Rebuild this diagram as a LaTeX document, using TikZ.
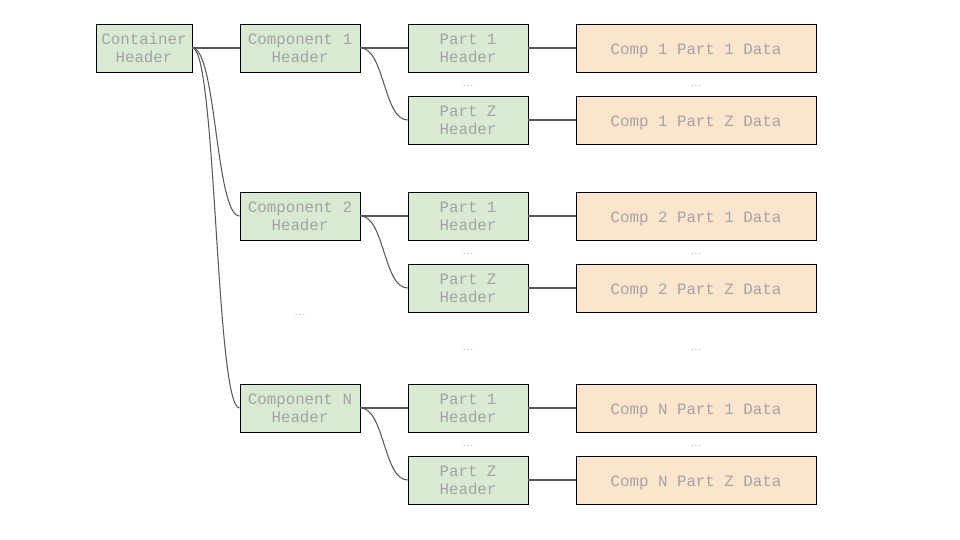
\documentclass[tikz,border=0pt]{standalone}
\usepackage{xcolor}
\usepackage{fontspec}
\usepackage{tikz}
\setmonofont{Liberation Mono}
\definecolor{hdrgreen}{HTML}{D9EAD3}
\definecolor{datapeach}{HTML}{FCE5CD}
\definecolor{txtgray}{HTML}{A3A3A3}
\definecolor{linkgray}{HTML}{595959}
\tikzset{
  box/.style={draw=black,line width=0.5pt,inner sep=0pt,
    minimum height=0.96cm,align=center,text=txtgray,
    font=\ttfamily\fontsize{9}{10.4}\selectfont},
  hdr/.style={box,fill=hdrgreen,minimum width=2.4cm,
    execute at begin node={\rule{0pt}{13.6pt}}},
  contbox/.style={hdr,minimum width=1.92cm},
  databox/.style={box,fill=datapeach,minimum width=4.8cm,
    execute at begin node={\rule{0pt}{9.6pt}}},
  dots/.style={text=txtgray,font=\fontsize{6}{7}\selectfont,inner sep=0pt},
  link/.style={draw=linkgray,line width=0.6pt}
}

\begin{document}
\begin{tikzpicture}[x=0.02cm,y=-0.02cm]
\useasboundingbox (0,0) rectangle (960,540);
  \node[contbox] (cont) at (144,48) {Container\\Header};
  \node[hdr] (comp1) at (300,48) {Component 1\\Header};
  \node[hdr] (comp2) at (300,216) {Component 2\\Header};
  \node[hdr] (compN) at (300,408) {Component N\\Header};
  \node[dots] (dotsC) at (300,315) {...};
% component 1
  \node[hdr] (p11) at (468,48) {Part 1\\Header};
  \node[hdr] (p1Z) at (468,120) {Part Z\\Header};
  \node[databox] (d11) at (696,48) {Comp 1 Part 1 Data};
  \node[databox] (d1Z) at (696,120) {Comp 1 Part Z Data};
  \node[dots] (dotsP1) at (468,86) {...};
  \node[dots] (dotsD1) at (696,86) {...};
% component 2
  \node[hdr] (p21) at (468,216) {Part 1\\Header};
  \node[hdr] (p2Z) at (468,288) {Part Z\\Header};
  \node[databox] (d21) at (696,216) {Comp 2 Part 1 Data};
  \node[databox] (d2Z) at (696,288) {Comp 2 Part Z Data};
  \node[dots] (dotsP2) at (468,254) {...};
  \node[dots] (dotsD2) at (696,254) {...};
  \node[dots] (dotsP) at (468,350) {...};
  \node[dots] (dotsD) at (696,350) {...};
% component N
  \node[hdr] (pN1) at (468,408) {Part 1\\Header};
  \node[hdr] (pNZ) at (468,480) {Part Z\\Header};
  \node[databox] (dN1) at (696,408) {Comp N Part 1 Data};
  \node[databox] (dNZ) at (696,480) {Comp N Part Z Data};
  \node[dots] (dotsPN) at (468,446) {...};
  \node[dots] (dotsDN) at (696,446) {...};
% links
  \draw[link] (cont.east) -- (comp1.west);
  \draw[link] (cont.east) .. controls ([xshift=0.48cm]cont.east) and ([xshift=-0.48cm]comp2.west) .. (comp2.west);
  \draw[link] (cont.east) .. controls ([xshift=0.48cm]cont.east) and ([xshift=-0.48cm]compN.west) .. (compN.west);
  \draw[link] (comp1.east) -- (p11.west);
  \draw[link] (comp1.east) .. controls ([xshift=0.48cm]comp1.east) and ([xshift=-0.48cm]p1Z.west) .. (p1Z.west);
  \draw[link] (comp2.east) -- (p21.west);
  \draw[link] (comp2.east) .. controls ([xshift=0.48cm]comp2.east) and ([xshift=-0.48cm]p2Z.west) .. (p2Z.west);
  \draw[link] (compN.east) -- (pN1.west);
  \draw[link] (compN.east) .. controls ([xshift=0.48cm]compN.east) and ([xshift=-0.48cm]pNZ.west) .. (pNZ.west);
  \draw[link] (p11.east) -- (d11.west);
  \draw[link] (p1Z.east) -- (d1Z.west);
  \draw[link] (p21.east) -- (d21.west);
  \draw[link] (p2Z.east) -- (d2Z.west);
  \draw[link] (pN1.east) -- (dN1.west);
  \draw[link] (pNZ.east) -- (dNZ.west);
\end{tikzpicture}
\end{document}
